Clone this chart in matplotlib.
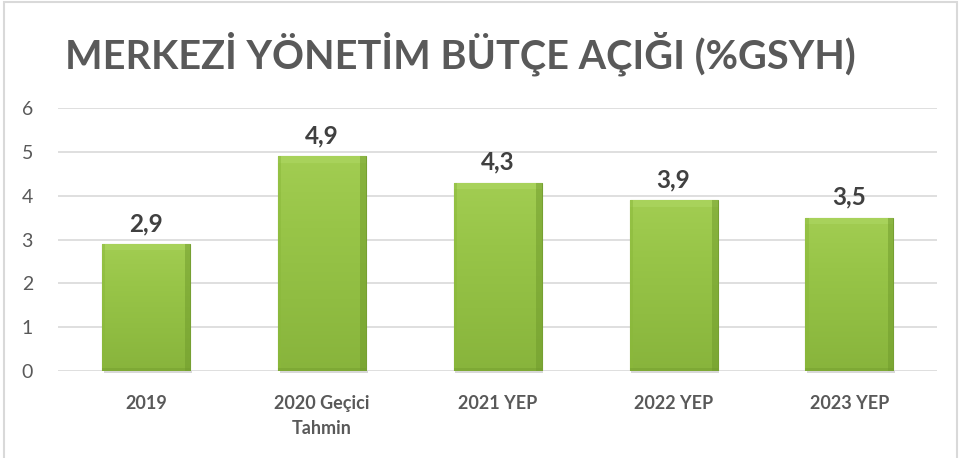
import numpy as np
import matplotlib.pyplot as plt
from matplotlib.patches import Rectangle
from matplotlib.colors import LinearSegmentedColormap

# veriler
kategoriler = ['2019', '2020 Geçici\nTahmin', '2021 YEP', '2022 YEP', '2023 YEP']
degerler = [2.9, 4.9, 4.3, 3.9, 3.5]
etiketler = ['2,9', '4,9', '4,3', '3,9', '3,5']
y_ticks = [0, 1, 2, 3, 4, 5, 6]

plt.rcParams['font.family'] = ['Lato', 'DejaVu Sans']

fig = plt.figure(figsize=(9.6, 4.58), dpi=100)
ax = fig.add_axes([0.0604, 0.19, 0.916, 0.574])

x = np.arange(len(kategoriler))
bars = ax.bar(x, degerler, width=0.5, color='#94C247', edgecolor='#76A032',
              linewidth=0.8, zorder=3)

# bar gradient + bevel
cmap = LinearSegmentedColormap.from_list('g', ['#A2CD52', '#98C548', '#90BD42', '#88B43C'])
grad = np.linspace(0, 1, 256).reshape(-1, 1)
for b in bars:
    x0, w, h = b.get_x(), b.get_width(), b.get_height()
    im = ax.imshow(grad, cmap=cmap, aspect='auto', extent=(x0, x0 + w, 0, h),
                   zorder=3.5)
    im.set_clip_path(b)
    # top bevel
    ax.add_patch(Rectangle((x0, h - 0.15), w, 0.15, facecolor='#AAD45E',
                           alpha=0.8, edgecolor='none', zorder=4))
    # side shading
    ax.add_patch(Rectangle((x0 + w - 0.03, 0), 0.03, h, facecolor='#6F9A2C',
                           alpha=0.5, edgecolor='none', zorder=4))
    ax.add_patch(Rectangle((x0, 0), 0.02, h, facecolor='#8AB83A',
                           alpha=0.5, edgecolor='none', zorder=4))
    ax.add_patch(Rectangle((x0, 0), w, 0.06, facecolor='#6F9A2C',
                           alpha=0.4, edgecolor='none', zorder=4))
    # shadow
    ax.add_patch(Rectangle((x0 + 0.01, -0.05), w, 0.05, facecolor='#BFBFBF',
                           alpha=0.6, edgecolor='none', zorder=2.5, clip_on=False))

for xi, v, t in zip(x, degerler, etiketler):
    ax.text(xi, v + 0.2, t, ha='center', va='bottom', fontsize=17.5,
            fontweight='bold', color='#404040')

ax.set_ylim(0, 6)
ax.set_xlim(-0.5, len(kategoriler) - 0.5)
ax.set_yticks(y_ticks)
ax.set_yticklabels([str(t) for t in y_ticks], fontsize=14, color='#595959')
ax.set_xticks(x)
ax.set_xticklabels(kategoriler, fontsize=13, fontweight='bold', color='#595959',
                   linespacing=1.6)
ax.tick_params(axis='both', length=0)
ax.tick_params(axis='y', pad=18)
ax.tick_params(axis='x', pad=17)
ax.grid(axis='y', color='#D9D9D9', linewidth=1.2, zorder=0)
for s in ax.spines.values():
    s.set_visible(False)

fig.text(0.48, 0.883, 'MERKEZİ YÖNETİM BÜTÇE AÇIĞI (%GSYH)', ha='center',
         va='center', fontsize=28.5, fontweight='bold', color='#595959')

# chart border
fig.patches.append(Rectangle((0.004, -0.01), 0.993, 1.005, transform=fig.transFigure,
                             facecolor='none', edgecolor='#D9D9D9', linewidth=1.5))

fig.savefig('out.png', dpi=100)
